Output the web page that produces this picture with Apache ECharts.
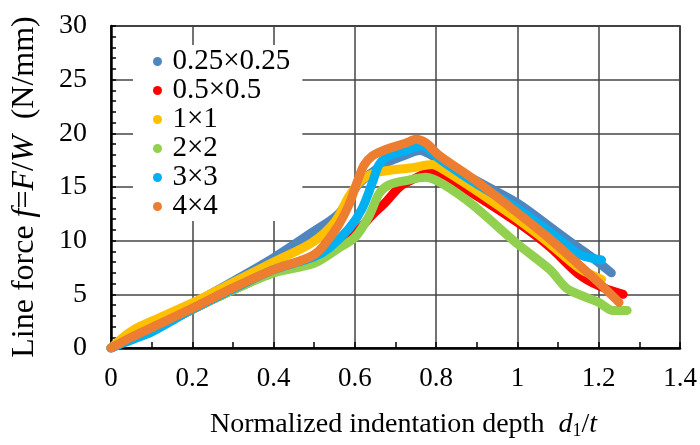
<!DOCTYPE html>
<html>
<head>
<meta charset="utf-8">
<script src="https://cdn.jsdelivr.net/npm/echarts@6/dist/echarts.min.js"></script>
<style>html,body{margin:0;padding:0;background:#fff}#c{width:700px;height:445px}</style>
</head>
<body>
<div id="c"></div>
<script>
const seriesNames = ['0.25×0.25', '0.5×0.5', '1×1', '2×2', '3×3', '4×4'];
const seriesColors = ['#4F86C0', '#FF0000', '#FFC000', '#92D050', '#00B0F0', '#ED7D31'];

const s025 = [[0,0],[0.1,2.0],[0.2,4.1],[0.3,6.2],[0.4,8.4],[0.5,10.9],[0.56,12.5],[0.61,15.3],[0.675,17.2],[0.72,17.9],[0.76,18.4],[0.8,17.7],[0.891,15.75],[1.0,13.5],[1.055,12.0],[1.137,9.7],[1.178,8.6],[1.231,7.0]];
const s05 = [[0,0],[0.05,0.9],[0.1,1.7],[0.2,3.6],[0.3,5.4],[0.4,7.1],[0.5,8.4],[0.55,9.5],[0.6,10.7],[0.643,12.4],[0.676,13.6],[0.71,15.0],[0.742,15.7],[0.79,16.4],[0.81,16.2],[0.89,14.4],[1.0,11.7],[1.08,9.4],[1.15,6.9],[1.2,5.8],[1.26,5.0]];
const s1 = [[0,0],[0.03,1.0],[0.06,1.8],[0.1,2.5],[0.2,4.2],[0.3,6.1],[0.4,8.0],[0.494,9.8],[0.552,11.8],[0.585,14.1],[0.618,15.7],[0.66,16.4],[0.742,16.8],[0.79,17.1],[0.81,16.8],[0.891,14.85],[1.0,12.0],[1.08,9.7],[1.153,7.4],[1.207,6.4]];
const s2 = [[0,0],[0.05,0.9],[0.1,1.7],[0.2,3.6],[0.3,5.4],[0.4,7.0],[0.5,7.9],[0.56,9.3],[0.6,10.3],[0.635,12.3],[0.66,14.4],[0.684,15.2],[0.726,15.6],[0.775,15.9],[0.82,15.2],[0.891,13.3],[1.0,9.7],[1.08,7.3],[1.12,5.6],[1.16,4.85],[1.2,4.25],[1.235,3.5],[1.27,3.5]];
const s3 = [[0,0],[0.05,0.75],[0.1,1.5],[0.2,3.6],[0.3,5.5],[0.4,7.3],[0.5,8.5],[0.536,9.3],[0.585,11.1],[0.618,13.0],[0.643,15.4],[0.66,17.1],[0.684,17.9],[0.726,18.4],[0.76,18.85],[0.78,18.6],[0.809,17.6],[0.891,15.5],[1.0,13.0],[1.08,10.8],[1.137,9.1],[1.16,8.6],[1.207,8.2]];
const s4 = [[0,0],[0.05,1.0],[0.1,1.9],[0.2,3.7],[0.3,5.6],[0.4,7.3],[0.5,8.7],[0.552,11.0],[0.585,13.3],[0.606,15.5],[0.622,17.0],[0.643,17.9],[0.676,18.5],[0.726,19.1],[0.75,19.45],[0.775,19.1],[0.809,17.9],[0.891,15.75],[1.0,12.6],[1.08,10.15],[1.153,7.7],[1.2,6.1],[1.25,4.25]];
const seriesData = [s025, s05, s1, s2, s3, s4];

const FONT = 'Liberation Serif';
const chart = echarts.init(document.getElementById('c'), null, {renderer: 'canvas'});
chart.setOption({
  animation: false,
  backgroundColor: '#fff',
  grid: {left: 111, right: 20, top: 26, bottom: 88, show: true, borderColor: '#000', borderWidth: 1.5, backgroundColor: 'transparent'},
  legend: {
    orient: 'vertical', left: 133, top: 45,
    padding: [2, 12, 0, 20],
    backgroundColor: '#fff',
    itemWidth: 20, itemHeight: 9, itemGap: 0,
    icon: 'circle',
    textStyle: {fontFamily: FONT, fontSize: 29, color: '#000', lineHeight: 29},
    data: seriesNames
  },
  xAxis: {
    type: 'value', min: 0, max: 1.4, interval: 0.2,
    axisLine: {show: true, onZero: false, lineStyle: {color: '#000', width: 2.5}},
    axisTick: {show: true, inside: true, length: 6, lineStyle: {color: '#000', width: 1.5}},
    minorTick: {show: true, splitNumber: 2, length: 6, lineStyle: {color: '#000', width: 1.5}},
    splitLine: {show: true, lineStyle: {color: '#444', width: 1.5}},
    axisLabel: {fontFamily: FONT, fontSize: 27, color: '#000', margin: 17},
    name: 'Normalized indentation depth  {i|d}{sub|1}{n|/}{i|t}',
    nameLocation: 'middle', nameGap: 62,
    nameTextStyle: {fontFamily: FONT, fontSize: 28, color: '#000', padding: [0, 0, 0, 16],
      rich: {i: {fontFamily: FONT, fontSize: 28, fontStyle: 'italic', color: '#000'},
             n: {fontFamily: FONT, fontSize: 28, color: '#000'},
             sub: {fontFamily: FONT, fontSize: 18, color: '#000', verticalAlign: 'bottom', padding: [12, 0, 0, 0]}}}
  },
  yAxis: {
    type: 'value', min: 0, max: 30, interval: 5,
    axisLine: {show: true, onZero: false, lineStyle: {color: '#000', width: 2.5}},
    axisTick: {show: true, inside: true, length: 5, lineStyle: {color: '#000', width: 1.5}},
    minorTick: {show: true, splitNumber: 5, length: 5, lineStyle: {color: '#000', width: 1.5}},
    splitLine: {show: true, lineStyle: {color: '#444', width: 1.5}},
    axisLabel: {fontFamily: FONT, fontSize: 28, color: '#000', margin: 24},
    name: 'Line force {i|f}={i|F}/{i|W}  (N/mm)',
    nameLocation: 'middle', nameGap: 70,
    nameTextStyle: {fontFamily: FONT, fontSize: 32, color: '#000',
      rich: {i: {fontFamily: FONT, fontSize: 32, fontStyle: 'italic', color: '#000'}}}
  },
  series: seriesNames.map((n, k) => ({
    name: n, type: 'line', data: seriesData[k],
    smooth: 0.3, showSymbol: false, symbol: 'circle',
    color: seriesColors[k],
    lineStyle: {width: 9, color: seriesColors[k], cap: 'round', join: 'round'},
    itemStyle: {color: seriesColors[k]},
    z: 2 + k
  }))
});
</script>
</body>
</html>
